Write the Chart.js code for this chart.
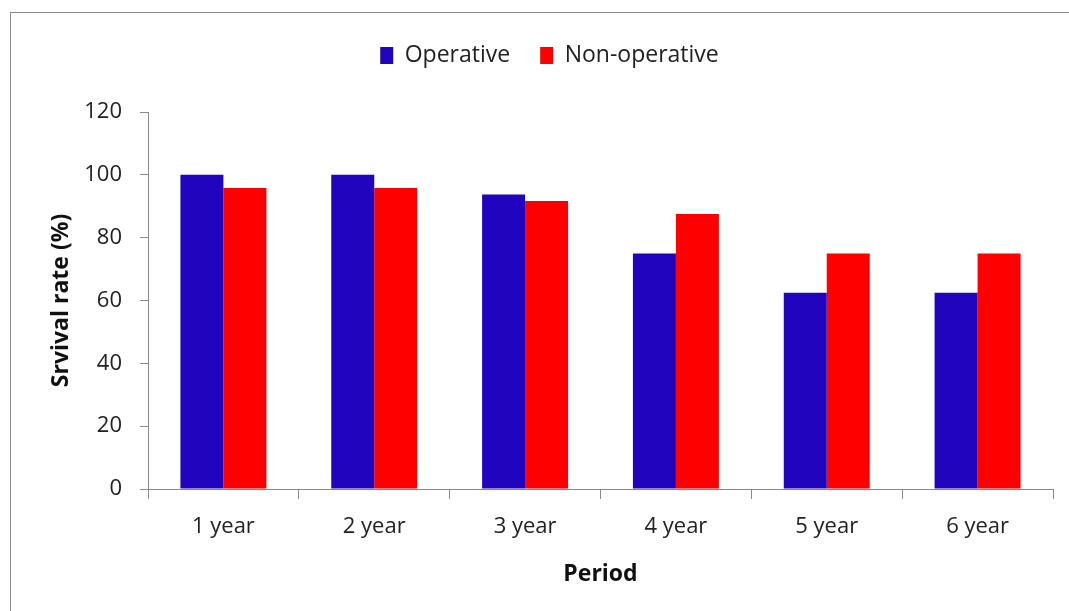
<!DOCTYPE html>
<html>
<head>
<meta charset="utf-8">
<script src="https://cdn.jsdelivr.net/npm/chart.js@4"></script>
<style>
  html, body { margin: 0; padding: 0; background: #fff; overflow: hidden; }
  #frame { position: absolute; left: 10px; top: 12px; width: 1100px; height: 700px; border: 1px solid #8a8a8a; }
  #wrap { position: absolute; left: 0; top: 0; width: 1069px; height: 611px; }
</style>
</head>
<body>
<div id="frame"></div>
<div id="wrap"><canvas id="survival"></canvas></div>
<script>
// data
var periods = ['1 year', '2 year', '3 year', '4 year', '5 year', '6 year'];
var operative = [100, 100, 93.75, 75, 62.5, 62.5];
var nonOperative = [95.8, 95.8, 91.7, 87.5, 75, 75];
var yTicks = [0, 20, 40, 60, 80, 100, 120];

var font = "'Open Sans', 'Liberation Sans', sans-serif";
var axisGrey = '#8a8a8a';

// push the plot area further below the legend, and nudge the legend right
var legendGap = {
    id: 'legendGap',
    beforeInit: function (chart) {
        var fit = chart.legend.fit;
        chart.legend.fit = function () {
            fit.bind(chart.legend)();
            this.height += 35;
        };
    },
    afterLayout: function (chart) {
        chart.legend.left += 23;
        chart.legend.right += 23;
    }
};

var ctx = document.getElementById('survival').getContext('2d');
var myChart = new Chart(ctx, {
    type: 'bar',
    data: {
        labels: periods,
        datasets: [{
            label: 'Operative',
            data: operative,
            backgroundColor: '#2105BE',
            categoryPercentage: 0.57,
            barPercentage: 1.0
        }, {
            label: 'Non-operative',
            data: nonOperative,
            backgroundColor: '#FF0000',
            categoryPercentage: 0.57,
            barPercentage: 1.0
        }]
    },
    plugins: [legendGap],
    options: {
        responsive: true,
        maintainAspectRatio: false,
        animation: false,
        layout: { padding: { top: 14, right: 16, left: 0, bottom: 0 } },
        plugins: {
            tooltip: { enabled: false },
            legend: {
                position: 'top',
                labels: {
                    boxWidth: 13,
                    boxHeight: 17,
                    padding: 30,
                    color: '#222',
                    font: { family: font, size: 23 }
                }
            }
        },
        scales: {
            x: {
                afterFit: function (scale) { scale.height = 122; },
                grid: { drawOnChartArea: false, drawTicks: true, tickLength: 10, color: axisGrey, offset: true },
                border: { display: true, color: axisGrey, width: 1 },
                ticks: { color: '#222', padding: 15, font: { family: font, size: 22 } },
                title: {
                    display: true,
                    text: 'Period',
                    color: '#111',
                    padding: { top: 23, bottom: 23 },
                    font: { family: font, size: 23, weight: 'bold' }
                }
            },
            y: {
                min: 0,
                max: 120,
                afterFit: function (scale) { scale.width = 148; },
                afterBuildTicks: function (scale) {
                    scale.ticks = yTicks.map(function (v) { return { value: v }; });
                },
                grid: { drawOnChartArea: false, drawTicks: true, tickLength: 8, color: axisGrey },
                border: { display: true, color: axisGrey, width: 1 },
                ticks: { color: '#222', padding: 18, font: { family: font, size: 22 } },
                title: {
                    display: true,
                    text: 'Srvival rate (%)',
                    color: '#111',
                    padding: { top: 48, bottom: 48 },
                    font: { family: font, size: 23, weight: 'bold' }
                }
            }
        }
    }
});
</script>
</body>
</html>
